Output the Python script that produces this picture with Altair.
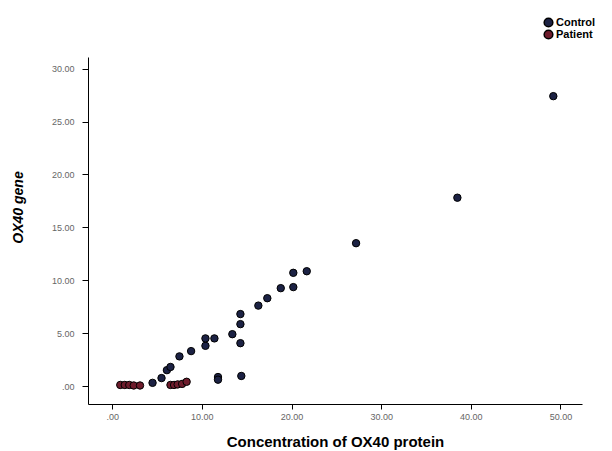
import altair as alt
import pandas as pd

control_x = [4.5, 5.5, 6.1, 6.5, 7.5, 8.8, 10.4, 10.4, 11.4, 11.8, 11.8, 13.4, 14.3, 14.3, 14.3, 14.4,
             16.3, 17.3, 18.8, 20.2, 20.2, 21.7, 27.2, 38.5, 49.2]
control_y = [0.3, 0.75, 1.5, 1.8, 2.8, 3.3, 3.8, 4.5, 4.5, 0.85, 0.6, 4.9, 6.8, 5.85, 4.05, 0.95,
             7.6, 8.3, 9.25, 9.35, 10.7, 10.85, 13.5, 17.8, 27.4]
patient_x = [0.9, 1.4, 1.9, 2.4, 3.1, 6.5, 6.9, 7.3, 7.8, 8.3]
patient_y = [0.1, 0.1, 0.1, 0.05, 0.05, 0.1, 0.1, 0.15, 0.2, 0.4]

groups = ["Control", "Patient"]
colors = ["#1c2244", "#6e1c2c"]

df = pd.DataFrame({
    "protein": control_x + patient_x,
    "gene": control_y + patient_y,
    "group": ["Control"] * len(control_x) + ["Patient"] * len(patient_x),
})

label_expr = "datum.value == 0 ? '.00' : format(datum.value, '.2f')"

chart = alt.Chart(df).mark_point(filled=True, size=55, stroke="black", strokeWidth=1, opacity=1).encode(
    x=alt.X("protein:Q", scale=alt.Scale(domain=[-2.7, 52.4], nice=False, zero=False),
            axis=alt.Axis(title="Concentration of OX40 protein", values=[0, 10, 20, 30, 40, 50],
                          labelExpr=label_expr, grid=False, tickSize=5, domainColor="black",
                          tickColor="black", labelColor="#666666", labelFontSize=9,
                          labelFont="Liberation Sans", titleFont="Liberation Sans",
                          titleFontSize=15, titleFontWeight="bold", titlePadding=13,
                          labelPadding=3)),
    y=alt.Y("gene:Q", scale=alt.Scale(domain=[-1.7, 31.1], nice=False, zero=False),
            axis=alt.Axis(title="OX40 gene", values=[0, 5, 10, 15, 20, 25, 30],
                          labelExpr=label_expr, grid=False, tickSize=6, domainColor="black",
                          tickColor="black", labelColor="#666666", labelFontSize=9,
                          labelFont="Liberation Sans", titleFont="Liberation Sans",
                          titleFontSize=14, titleFontWeight="bold", titleFontStyle="italic",
                          titlePadding=26, labelPadding=8, titleY=150)),
    fill=alt.Fill("group:N", scale=alt.Scale(domain=groups, range=colors),
                  legend=alt.Legend(title=None, orient="none", legendX=455, legendY=-40,
                                    symbolType="circle", symbolSize=75, symbolStrokeColor="black",
                                    labelFont="Liberation Sans", labelFontSize=11,
                                    labelFontWeight="bold", labelColor="black",
                                    rowPadding=0, symbolOffset=0, labelOffset=2, clipHeight=11)),
).properties(
    width=494, height=347,
    autosize=alt.AutoSizeParams(type="none"),
    padding={"left": 80, "top": 49, "right": 22, "bottom": 47},
).configure_view(stroke=None)

chart.save("out.html", embed_options={"renderer": "svg", "actions": False})
